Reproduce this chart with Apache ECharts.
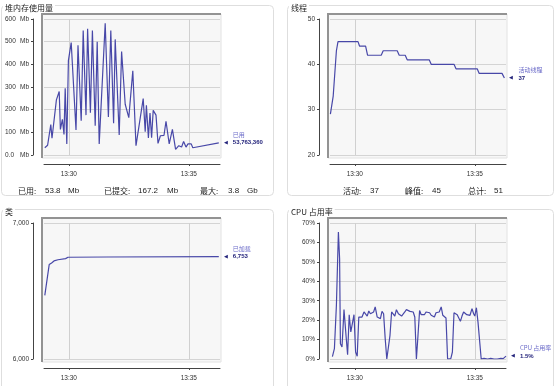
<!DOCTYPE html>
<html><head><meta charset="utf-8">
<script src="https://cdn.jsdelivr.net/npm/echarts@6/dist/echarts.min.js"></script>
<style>html,body{margin:0;padding:0;background:#fff}#c{width:554px;height:386px}</style>
</head><body><div id="c"></div>
<script>
// Times are seconds relative to 13:30:00
const heapTime = [-60,-53,-50,-45,-42,-38,-31,-24,-21,-16,-12,-9,-5,-1,6,18,23,31,36,43,47,54,59,66,71,76,81,91,99,105,112,116,126,132,141,150,155,160,164,168,186,191,194,199,203,207,211,218,223,229,238,243,251,259,267,275,282,287,293,298,306,310,375];
const heapMb = [32,43,51,134,74,78,243,280,113,157,91,294,49,416,496,110,484,151,549,176,557,187,549,129,500,49,49,581,168,549,140,510,88,456,224,165,165,372,373,41,249,103,219,75,185,76,197,176,51,85,87,149,49,113,25,41,35,60,35,49,49,32,53.8];

const threadTime = [-61,-54,-46,-42,8,12,27,32,66,71,106,111,126,131,186,191,248,253,306,311,368,374];
const threadCount = [29,33,43,45,45,44,44,42,42,43,43,42,42,41,41,40,40,39,39,38,38,37];

const classTime = [-60,-55,-49,-43,-37,-27,-8,-2,94,98,375];
const classCount = [6468,6480,6694,6706,6721,6730,6738,6748,6750,6753,6753];

const cpuTime = [-56,-51,-46,-41,-38,-36,-32,-27,-22,-18,-14,-10,-6,-2,2,6,10,14,18,23,27,31,35,39,43,47,51,56,60,64,68,72,76,80,84,88,92,96,100,104,109,113,117,121,125,129,133,138,142,146,150,154,158,162,166,170,174,178,182,187,191,195,199,203,207,211,216,220,224,228,232,236,240,244,248,252,256,260,264,268,272,276,280,284,288,293,297,300,304,308,316,323,332,340,348,356,365,371,378];
const cpuPct = [1.2,5.3,27.6,65.4,51.6,7.9,6.2,25.4,12.2,2.2,22.8,13.9,13.9,22.8,3.6,1.4,21.6,21.1,21.6,24.2,23.8,22.1,24.7,23.3,23.3,24.2,26.8,21.6,21.6,20.8,24.5,23.3,10.5,0,0,12.2,24.2,24.5,22.1,25.4,23.3,23.8,22.1,22.5,24.2,25.4,25.4,24.5,24.2,24.2,21.6,0,12.2,25.0,22.8,22.1,22.8,24.2,25.0,23.8,22.5,23.3,21.6,23.8,22.8,24.2,26.8,22.5,22.1,21.1,0,0,0.2,3.6,23.8,23.3,22.8,23.8,19.4,22.1,24.2,23.8,22.8,23.3,22.5,25.9,23.3,22.1,26.4,19.0,0,0.3,0,0.3,0,0,0.3,0.2,1.5];

const xTickSeconds = [0, 300];
const xTickLabels = ['13:30', '13:35'];
const panelTitles = ['堆内存使用量', '线程', '类', 'CPU 占用率'];
const legendNames = ['已用', '活动线程', '已加载', 'CPU 占用率'];
const legendValues = ['53,763,360', '37', '6,753', '1.5%'];
const heapStats = ['已用:', '53.8', 'Mb', '已提交:', '167.2', 'Mb', '最大:', '3.8', 'Gb'];
const threadStats = ['活动:', '37', '峰值:', '45', '总计:', '51'];

// layout (style only)
const origins = [[0,0],[286,0],[0,204],[286,204]];
const boxW = [272, 266, 272, 266];
const boxH = [190, 190, 200, 200];
const G = {l:44, t:19, w:176, h:136};
const LINE = '#4848a8';
const FONT = 'Liberation Sans, DejaVu Sans, sans-serif';
const CJK = 'Noto Sans CJK SC, sans-serif';

const yDefs = [
  {min:0, max:600, interval:100, fmt: v => '{n|' + (v === 0 ? '0.0' : v) + '}{u|Mb}'},
  {min:20, max:50, interval:10, fmt: v => String(v)},
  {min:6000, max:7000, interval:1000, fmt: v => v.toLocaleString('en-US')},
  {min:0, max:70, interval:10, fmt: v => v + '%'}
];
const seriesData = [
  heapTime.map((t,i) => [t, heapMb[i]]),
  threadTime.map((t,i) => [t, threadCount[i]]),
  classTime.map((t,i) => [t, classCount[i]]),
  cpuTime.map((t,i) => [t, cpuPct[i]])
];

const grids = [], xAxes = [], yAxes = [], series = [], graphics = [];
origins.forEach(([ox, oy], k) => {
  grids.push({left: ox + G.l, top: oy + G.t, width: G.w, height: G.h, containLabel: false});
  xAxes.push({
    type: 'value', gridIndex: k, min: -62, max: 378, offset: 9, position: 'bottom',
    axisLine: {show: true, onZero: false, lineStyle: {color: '#444', width: 1}},
    axisTick: {show: true, customValues: xTickSeconds, length: 2, lineStyle: {color: '#444'}},
    axisLabel: {customValues: xTickSeconds, formatter: v => xTickLabels[xTickSeconds.indexOf(v)] || '',
      fontSize: 6.5, fontFamily: FONT, color: '#333', margin: 7},
    splitLine: {show: true, lineStyle: {color: '#d0d0d0', width: 1}}
  });
  const d = yDefs[k];
  yAxes.push({
    type: 'value', gridIndex: k, min: d.min, max: d.max, interval: d.interval, offset: 11, position: 'left',
    axisLine: {show: true, onZero: false, lineStyle: {color: '#444', width: 1}},
    axisTick: {show: true, length: 2, lineStyle: {color: '#444'}},
    axisLabel: {formatter: d.fmt, fontSize: 6.5, fontFamily: FONT, color: '#333', margin: 4,
      rich: {n: {width: 15, align: 'left', fontSize: 6.5, fontFamily: FONT, color: '#333'},
             u: {fontSize: 6.5, fontFamily: FONT, color: '#333'}}},
    splitLine: {show: true, lineStyle: {color: '#d4d4d4', width: 1}}
  });
  series.push({
    type: 'line', xAxisIndex: k, yAxisIndex: k, data: seriesData[k],
    showSymbol: false, symbol: 'none', animation: false,
    lineStyle: {color: LINE, width: 1.2},
    endLabel: {
      show: true, distance: 5, offset: [0, -4],
      formatter: '{s| }{n|' + legendNames[k] + '}\n{a|◀}{v|' + legendValues[k] + '}',
      rich: {
        s: {width: 9, fontSize: 5, lineHeight: 8},
        n: {fontSize: 6, fontFamily: CJK, color: '#6a6ac8', lineHeight: 8},
        a: {width: 9, fontSize: 5, color: '#22227a', lineHeight: 8},
        v: {fontSize: 6, fontFamily: FONT, fontWeight: 'bold', color: '#22227a', lineHeight: 8}
      }
    }
  });
  // panel box
  graphics.push({type: 'rect', z: -20, shape: {x: ox + 1.5, y: oy + 5.5, width: boxW[k], height: boxH[k], r: 4},
    style: {fill: 'none', stroke: '#dedede', lineWidth: 1}});
  graphics.push({type: 'text', z: -5, x: ox + 3, y: oy + 8,
    style: {text: panelTitles[k], font: '8px ' + CJK, fill: '#222', verticalAlign: 'middle',
      backgroundColor: '#fff', padding: [0, 2]}});
  // plot frame
  const fx = ox + G.l - 2, fy = oy + G.t - 5, fw = G.w + 3, fh = G.h + 8;
  graphics.push({type: 'rect', z: -10, shape: {x: fx, y: fy, width: fw, height: fh},
    style: {fill: '#f7f7f7', stroke: '#e2e2e2', lineWidth: 1}});
  graphics.push({type: 'polyline', z: 5, shape: {points: [[fx, fy + fh], [fx, fy], [fx + fw, fy]]},
    style: {stroke: '#939393', lineWidth: 2, fill: 'none'}});
});

// stats lines
const heapX = [18, 45, 68, 104, 138, 167, 200, 228, 247];
heapStats.forEach((s, i) => graphics.push({type: 'text', x: heapX[i], y: 191,
  style: {text: s, font: '8px ' + (/[\u4e00-\u9fff]/.test(s) ? CJK : FONT), fill: '#222', verticalAlign: 'middle'}}));
const thrX = [343, 370, 405, 432, 468, 494];
threadStats.forEach((s, i) => graphics.push({type: 'text', x: thrX[i], y: 191,
  style: {text: s, font: '8px ' + (/[\u4e00-\u9fff]/.test(s) ? CJK : FONT), fill: '#222', verticalAlign: 'middle'}}));

const chart = echarts.init(document.getElementById('c'), null, {renderer: 'canvas'});
chart.setOption({
  animation: false,
  backgroundColor: '#fff',
  grid: grids, xAxis: xAxes, yAxis: yAxes, series: series, graphic: graphics
});
</script></body></html>
